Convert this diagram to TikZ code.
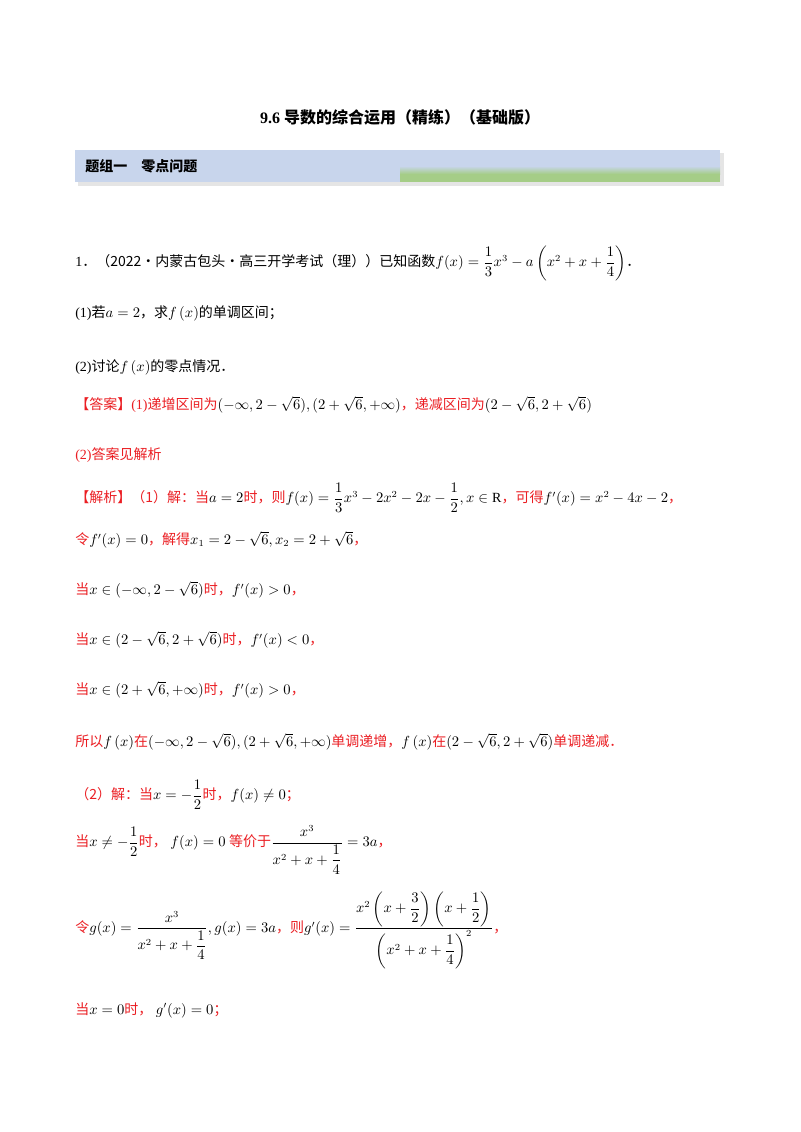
\documentclass[tikz,border=0pt]{standalone}
\usepackage{amsmath}
\usepackage{fontspec}
\setmainfont{Liberation Serif}
\newfontfamily\cjk{Noto Sans CJK SC}
\definecolor{ans}{RGB}{235,30,35}
\definecolor{barblue}{RGB}{200,213,236}
\definecolor{bargreen}{RGB}{165,205,135}
\newcommand{\zh}[1]{{\cjk #1}}
\newcommand{\rz}[1]{\textcolor{ans}{\cjk #1}}
\begin{document}
\begin{tikzpicture}[x=0.75pt,y=-0.75pt,
  txt/.style={anchor=west,inner sep=0pt,font=\fontsize{10.5}{12}\selectfont}]
\useasboundingbox (0,0) rectangle (800,1132);
\fill[white] (0,0) rectangle (800,1132);
\node[font=\fontsize{12}{14}\selectfont\bfseries,inner sep=0pt] (title) at (400,117) {9.6 \zh{\bfseries 导数的综合运用（精练）（基础版）}};
\fill[black!10] (78,153) rectangle (724,186);
\fill[barblue] (75,150) rectangle (720,182);
\shade[top color=barblue,bottom color=bargreen] (400,166) rectangle (720,174);
\fill[bargreen] (400,174) rectangle (720,182);
\node[txt,font=\fontsize{10.5}{12}\selectfont] (bar) at (85,166) {\zh{\bfseries 题组一\quad 零点问题}};
\node[txt] (l1) at (75,263) {1\zh{．（2022·内蒙古包头·高三开学考试（理））已知函数}$f(x)=\dfrac13x^3-a\left(x^2+x+\dfrac14\right)$\zh{．}};
\node[txt] (l2) at (75,313) {(1)\zh{若}$a=2$\zh{，求}$f\left(x\right)$\zh{的单调区间；}};
\node[txt] (l3) at (75,367) {(2)\zh{讨论}$f\left(x\right)$\zh{的零点情况．}};
\node[txt] (l4) at (75,405) {\rz{【答案】}\textcolor{ans}{(1)}\rz{递增区间为}$(-\infty,2-\sqrt6),(2+\sqrt6,+\infty)$\rz{，递减区间为}$(2-\sqrt6,2+\sqrt6)$};
\node[txt] (l5) at (75,455) {\textcolor{ans}{(2)}\rz{答案见解析}};
\node[txt] (l6) at (75,498) {\rz{【解析】（1）解：当}$a=2$\rz{时，则}$f(x)=\dfrac13x^3-2x^2-2x-\dfrac12,x\in\mathrm{R}$\rz{，可得}$f'(x)=x^2-4x-2$\rz{，}};
\node[txt] (l7) at (75,540) {\rz{令}$f'(x)=0$\rz{，解得}$x_1=2-\sqrt6,x_2=2+\sqrt6$\rz{，}};
\node[txt] (l8) at (75,590) {\rz{当}$x\in(-\infty,2-\sqrt6)$\rz{时，}$f'(x)>0$\rz{，}};
\node[txt] (l9) at (75,640) {\rz{当}$x\in(2-\sqrt6,2+\sqrt6)$\rz{时，}$f'(x)<0$\rz{，}};
\node[txt] (l10) at (75,690) {\rz{当}$x\in(2+\sqrt6,+\infty)$\rz{时，}$f'(x)>0$\rz{，}};
\node[txt] (l11) at (75,742) {\rz{所以}$f\left(x\right)$\rz{在}$(-\infty,2-\sqrt6),(2+\sqrt6,+\infty)$\rz{单调递增，}$f\left(x\right)$\rz{在}$(2-\sqrt6,2+\sqrt6)$\rz{单调递减．}};
\node[txt] (l12) at (75,795) {\rz{（2）解：当}$x=-\dfrac12$\rz{时，}$f(x)\neq0$\rz{；}};
\node[txt] (l13) at (75,850) {\rz{当}$x\neq-\dfrac12$\rz{时，}\ $f(x)=0$\ \rz{等价于}$\dfrac{x^3}{x^2+x+\dfrac14}=3a$\rz{，}};
\node[txt] (l14) at (75,930) {\rz{令}$g(x)=\dfrac{x^3}{x^2+x+\dfrac14},g(x)=3a$\rz{，则}$g'(x)=\dfrac{x^2\left(x+\dfrac32\right)\left(x+\dfrac12\right)}{\left(x^2+x+\dfrac14\right)^2}$\rz{，}};
\node[txt] (l15) at (75,1010) {\rz{当}$x=0$\rz{时，}\ $g'(x)=0$\rz{；}};
\end{tikzpicture}
\end{document}
